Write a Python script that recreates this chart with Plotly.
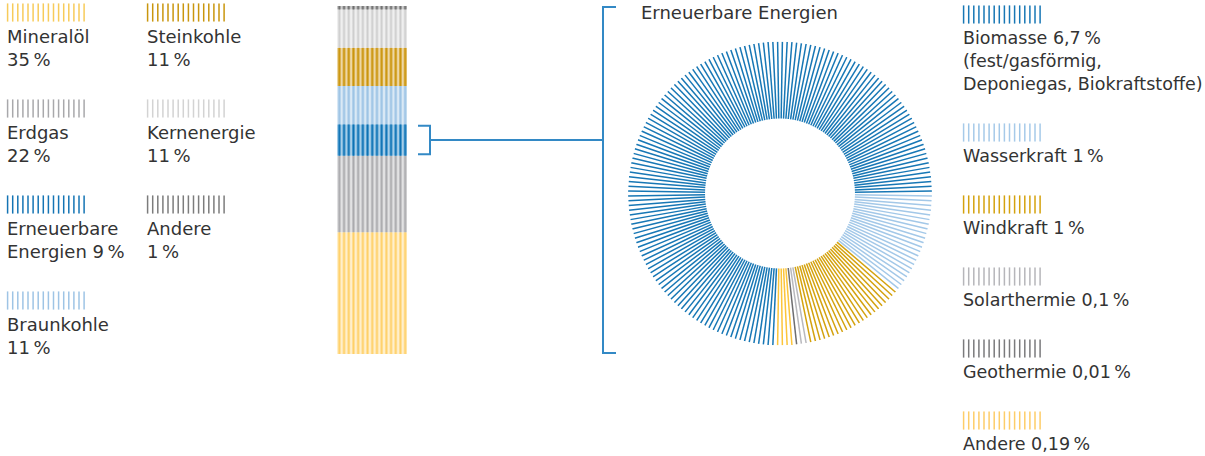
import numpy as np
import plotly.graph_objects as go

W, H = 1205, 456
FONT = "DejaVu Sans"
TEXT = "#333333"
BRACKET = "#3389c5"

# Primary energy mix (%), stacked from bottom to top
mix_labels = ["Mineralöl", "Erdgas", "Erneuerbare Energien", "Braunkohle",
              "Steinkohle", "Kernenergie", "Andere"]
mix_shares = [35, 22, 9, 11, 11, 11, 1]
mix_band = ["#ffe09a", "#c6c6c8", "#4f9ed1", "#b5d3ec", "#dcb04a", "#e0e0e0", "#9c9c9c"]
mix_line = ["#ffcf66", "#a9a9ac", "#0b6fb1", "#9dc3e4", "#c8940b", "#cdcdcd", "#6c6c6c"]
mix_swatch = ["#f7cb5a", "#a8a8ab", "#1474b4", "#9ec4e5", "#c9960d", "#d3d3d3", "#7c7c7c"]
mix_legend_names = ["Mineralöl<br>", "Erdgas<br>", "Erneuerbare<br>Energien ", "Braunkohle<br>",
                    "Steinkohle<br>", "Kernenergie<br>", "Andere<br>"]

# Renewable energies (% of primary energy), clockwise from 3 o'clock
ee_labels = ["Wasserkraft", "Windkraft", "Solarthermie", "Geothermie", "Andere", "Biomasse"]
ee_shares = [1, 1, 0.1, 0.01, 0.19, 6.7]
ee_colors = ["#a3c8e8", "#d4a20e", "#b9b9bd", "#6e6e70", "#fcc53a", "#1777b5"]
ee_swatch = ["#a6cae9", "#d4a20e", "#b6b6ba", "#7a7a7c", "#fdcd68", "#1777b5"]
ee_notes = ["", "", "", "", "", "<br>(fest/gasförmig,<br>Deponiegas, Biokraftstoffe)"]


def pct(v):
    return f"{v:g}".replace(".", ",") + "\u2009%"


fig = go.Figure()

# ---- stacked column -------------------------------------------------------
bases = np.concatenate([[0], np.cumsum(mix_shares)[:-1]])
common = dict(x=[0] * len(mix_shares), y=mix_shares, base=bases, width=1,
              xaxis="x", yaxis="y", hoverinfo="skip", showlegend=False)
fig.add_trace(go.Bar(**common, marker=dict(
    line=dict(width=0),
    pattern=dict(shape="|", size=4.7, solidity=0.8, fillmode="replace",
                 fgcolor=mix_band, bgcolor="white"))))
fig.add_trace(go.Bar(**common, marker=dict(
    line=dict(width=0),
    pattern=dict(shape="|", size=4.7, solidity=0.28, fillmode="replace",
                 fgcolor=mix_line, bgcolor="rgba(0,0,0,0)"))))

# ---- renewables ring ------------------------------------------------------
N_SPOKES = 200
total = sum(ee_shares)
counts = [max(1, int(round(v / total * N_SPOKES))) for v in ee_shares[:-1]]
counts.append(N_SPOKES - sum(counts))
step = 360 / N_SPOKES
R_IN = 0.493
start = 0
for lab, n, col in zip(ee_labels, counts, ee_colors):
    r, th = [], []
    for i in range(start, start + n):
        a = (i + 0.5) * step
        r += [R_IN, 1, None]
        th += [a, a, None]
    start += n
    fig.add_trace(go.Scatterpolar(r=r, theta=th, mode="lines", name=lab,
                                  line=dict(color=col, width=1.5),
                                  hoverinfo="skip", showlegend=False))

# ---- legend swatches and labels (pixel overlay axis) ----------------------
left_slots = {"Mineralöl": (7, 6), "Steinkohle": (147, 6),
              "Erdgas": (7, 102), "Kernenergie": (147, 102),
              "Erneuerbare Energien": (7, 198), "Andere": (147, 198),
              "Braunkohle": (7, 294)}
right_tops = [8, 126, 198, 270, 342, 414]
right_order = [5, 0, 1, 2, 3, 4]  # Biomasse first, then the ring order
RIGHT_X = 963

sw_x, sw_y, sw_c = [], [], []
annotations = []


def swatch(x0, top, color):
    for k in range(16):
        sw_x.append(x0 + 0.6 + k * 5.1)
        sw_y.append(top + 6.5)
        sw_c.append(color)


def label(x0, top, text, size=18):
    annotations.append(dict(x=x0 - 2, y=top + 18, xref="x2", yref="y2",
                            xanchor="left", yanchor="top", align="left",
                            text=text, showarrow=False,
                            font=dict(family=FONT, size=size, color=TEXT)))


for lab, share, col, name in zip(mix_labels, mix_shares, mix_swatch, mix_legend_names):
    x0, top = left_slots[lab]
    swatch(x0, top, col)
    label(x0, top, name + pct(share))

for top, idx in zip(right_tops, right_order):
    swatch(RIGHT_X, top, ee_swatch[idx])
    label(RIGHT_X, top, f"{ee_labels[idx]} {pct(ee_shares[idx])}{ee_notes[idx]}", size=17.5)

fig.add_trace(go.Scatter(x=sw_x, y=sw_y, xaxis="x2", yaxis="y2", mode="markers",
                         marker=dict(symbol="line-ns", size=13,
                                     line=dict(width=1.5, color=sw_c)),
                         hoverinfo="skip", showlegend=False))

annotations.append(dict(x=639, y=0, xref="x2", yref="y2", xanchor="left", yanchor="top",
                        text="Erneuerbare Energien", showarrow=False,
                        font=dict(family=FONT, size=18, color=TEXT)))

# ---- brackets linking the column to the ring ------------------------------
i_ee = mix_labels.index("Erneuerbare Energien")
ee_lo = bases[i_ee] + 0.4
ee_hi = bases[i_ee] + mix_shares[i_ee] - 0.4
ee_mid = bases[i_ee] + mix_shares[i_ee] / 2
line = dict(color=BRACKET, width=2)
shapes = [
    dict(type="path", xref="x2", yref="y", line=line,
         path=f"M 418,{ee_hi} L 430,{ee_hi} L 430,{ee_lo} L 418,{ee_lo}"),
    dict(type="line", xref="x2", yref="y", x0=430, x1=603, y0=ee_mid, y1=ee_mid, line=line),
    dict(type="path", xref="x2", yref="y2", line=line,
         path="M 616,7 L 603,7 L 603,353 L 616,353"),
]

hidden = dict(visible=False, showgrid=False, zeroline=False, fixedrange=True)
fig.update_layout(
    width=W, height=H, margin=dict(l=0, r=0, t=0, b=0),
    paper_bgcolor="white", plot_bgcolor="rgba(0,0,0,0)",
    barmode="overlay", showlegend=False,
    xaxis=dict(domain=[337 / W, 407 / W], range=[-0.5, 0.5], anchor="y", **hidden),
    yaxis=dict(domain=[(H - 354) / H, (H - 6) / H], range=[0, 100], anchor="x", **hidden),
    xaxis2=dict(domain=[0, 1], range=[0, W], anchor="y2", **hidden),
    yaxis2=dict(domain=[0, 1], range=[H, 0], anchor="x2", **hidden),
    polar=dict(domain=dict(x=[628 / W, 932 / W], y=[(H - 345.5) / H, (H - 41.5) / H]),
               bgcolor="rgba(0,0,0,0)", hole=0,
               radialaxis=dict(range=[0, 1], visible=False),
               angularaxis=dict(rotation=0, direction="clockwise", visible=False)),
    annotations=annotations, shapes=shapes,
)

fig.write_html("out.html")
